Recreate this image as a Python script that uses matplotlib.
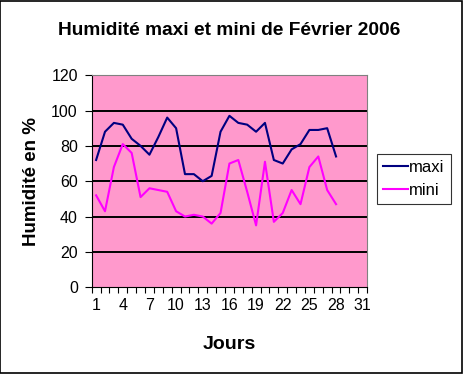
import matplotlib.pyplot as plt
from matplotlib.patches import Rectangle

days = list(range(1, 29))
maxi = [72, 88, 93, 92, 84, 80, 75, 85, 96, 90, 64, 64, 60, 63, 88, 97,
        93, 92, 88, 93, 72, 70, 78, 81, 89, 89, 90, 74]
mini = [52, 43, 68, 81, 76, 51, 56, 55, 54, 43, 40, 41, 40, 36, 42, 70,
        72, 54, 35, 71, 37, 42, 55, 47, 68, 74, 55, 47]
xtick_labels = [1, 4, 7, 10, 13, 16, 19, 22, 25, 28, 31]

plt.rcParams['font.family'] = ['Liberation Sans', 'DejaVu Sans']

fig = plt.figure(figsize=(4.63, 3.74), dpi=100)
fig.patches.append(Rectangle((0.001, 0.002), 0.996, 0.995, transform=fig.transFigure,
                             fill=False, edgecolor='black', linewidth=1.2))

ax = fig.add_axes([0.198, 0.232, 0.595, 0.567])
ax.set_facecolor('#FF99CC')

ax.plot(days, maxi, color='#000080', linewidth=1.5, label='maxi')
ax.plot(days, mini, color='#FF00FF', linewidth=1.5, label='mini')

ax.set_xlim(0.5, 31.5)
ax.set_ylim(0, 120)
ax.set_yticks(range(0, 121, 20))
for y in range(20, 120, 20):
    ax.axhline(y, color='black', linewidth=1.4, zorder=1)

ax.set_xticks(xtick_labels)
ax.set_xticks([d + 0.5 for d in range(0, 32)], minor=True)
ax.tick_params(axis='x', which='major', length=0, pad=8, labelsize=11.5)
ax.tick_params(axis='x', which='minor', length=4, width=0.8, direction='out')
ax.tick_params(axis='y', length=5, width=0.8, labelsize=11.5, pad=5)

for side in ['top', 'right']:
    ax.spines[side].set_color('#808080')
for side in ['left', 'bottom']:
    ax.spines[side].set_color('black')

ax.set_title('Humidité maxi et mini de Février 2006', fontsize=13.8,
             fontweight='bold', pad=29)
ax.set_xlabel('Jours', fontsize=14, fontweight='bold', labelpad=16)
ax.set_ylabel('Humidité en %', fontsize=13.5, fontweight='bold', labelpad=8)

leg = ax.legend(loc='center left', bbox_to_anchor=(1.035, 0.51), fontsize=12,
                frameon=True, fancybox=False, edgecolor='black',
                handlelength=1.5, handletextpad=0.1, borderpad=0.35,
                labelspacing=0.45, borderaxespad=0)
leg.get_frame().set_linewidth(0.8)

fig.savefig('out.png', dpi=100, facecolor='white')
